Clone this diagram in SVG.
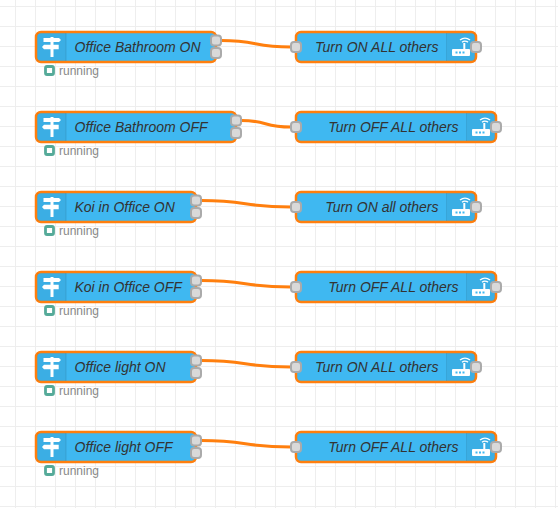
<svg xmlns="http://www.w3.org/2000/svg" width="558" height="508" viewBox="0 0 558 508">
<style>
.g{stroke:#eee;stroke-width:1;fill:none}
.b{fill:#3fb8f1;stroke:#ff7f0e;stroke-width:2.500}
.s{fill:#000;fill-opacity:.05}
.d{stroke:#000;stroke-opacity:.1;stroke-width:1}
.p{fill:#d9d9d9;stroke:#aaa;stroke-width:2}
.l{font:italic 14px "Liberation Sans",Arial,sans-serif;fill:#333}
.r{font:12px "Liberation Sans",Arial,sans-serif;fill:#888}
.w{stroke:#ff7f0e;stroke-width:3;fill:none}
.st{fill:#fff;stroke:#5a9;stroke-width:2.800}
.i{fill:#fff}
</style>
<defs>
<g id="sign"><path class="i" d="M-1.500-10h3v1H7l2 2-2 2H1.500v2.700H6.700v4.600H1.500V10h-3V2.300H-8l-2-2.300 2-2.300h6.500V-5h-7V-9h7z"/></g>
<g id="wifi"><path class="i" d="M-8 2H2.300V-4h2v6H8q1 0 1 1V8q0 1-1 1H-8q-1 0-1-1V3q0-1 1-1z"/><path d="M-5.500 4.500h2v2h-2zM-2 4.500h2v2h-2zM1.500 4.500h2v2h-2z" fill="#3fb8f1"/><path d="M-1-7q5-3.800 10 0M1-4.800q2.800-2.200 6 0" stroke="#fff" stroke-width="1.400" fill="none"/></g>
</defs>
<g id="grid"><path class="g" d="M15.500 0V508M35.500 0V508M55.500 0V508M75.500 0V508M95.500 0V508M115.500 0V508M135.500 0V508M155.500 0V508M175.500 0V508M195.500 0V508M215.500 0V508M235.500 0V508M255.500 0V508M275.500 0V508M295.500 0V508M315.500 0V508M335.500 0V508M355.500 0V508M375.500 0V508M395.500 0V508M415.500 0V508M435.500 0V508M455.500 0V508M475.500 0V508M495.500 0V508M515.500 0V508M535.500 0V508M555.500 0V508M0 6.500H558M0 26.500H558M0 46.500H558M0 66.500H558M0 86.500H558M0 106.500H558M0 126.500H558M0 146.500H558M0 166.500H558M0 186.500H558M0 206.500H558M0 226.500H558M0 246.500H558M0 266.500H558M0 286.500H558M0 306.500H558M0 326.500H558M0 346.500H558M0 366.500H558M0 386.500H558M0 406.500H558M0 426.500H558M0 446.500H558M0 466.500H558M0 486.500H558M0 506.500H558"/></g>
<g id="connectors">
<path class="w" d="M221 40.500C258 40.500 253 47 291 47"/>
<path class="w" d="M241 120.500C268 120.500 263 127 291 127"/>
<path class="w" d="M201 200.500C248 200.500 243 207 291 207"/>
<path class="w" d="M201 280.500C248 280.500 243 287 291 287"/>
<path class="w" d="M201 360.500C248 360.500 243 367 291 367"/>
<path class="w" d="M201 440.500C248 440.500 243 447 291 447"/>
</g>
<g id="in1"><rect class="b" x="36" y="32" width="180" height="30" rx="5"/><path class="s" d="M37 33h29v28h-29z"/><path class="d" d="M66 33v28"/><use href="#sign" x="52" y="47"/><text class="l" x="74.500" y="52">Office Bathroom ON</text><rect class="p" x="211" y="35.500" width="10" height="10" rx="3"/><rect class="p" x="211" y="48" width="10" height="10" rx="3"/><rect class="st" x="45.500" y="66.500" width="8" height="8" rx="1.500"/><text class="r" x="59" y="75">running</text></g>
<g id="in2"><rect class="b" x="36" y="112" width="200" height="30" rx="5"/><path class="s" d="M37 113h29v28h-29z"/><path class="d" d="M66 113v28"/><use href="#sign" x="52" y="127"/><text class="l" x="74.500" y="132">Office Bathroom OFF</text><rect class="p" x="231" y="115.500" width="10" height="10" rx="3"/><rect class="p" x="231" y="128" width="10" height="10" rx="3"/><rect class="st" x="45.500" y="146.500" width="8" height="8" rx="1.500"/><text class="r" x="59" y="155">running</text></g>
<g id="in3"><rect class="b" x="36" y="192" width="160" height="30" rx="5"/><path class="s" d="M37 193h29v28h-29z"/><path class="d" d="M66 193v28"/><use href="#sign" x="52" y="207"/><text class="l" x="74.500" y="212">Koi in Office ON</text><rect class="p" x="191" y="195.500" width="10" height="10" rx="3"/><rect class="p" x="191" y="208" width="10" height="10" rx="3"/><rect class="st" x="45.500" y="226.500" width="8" height="8" rx="1.500"/><text class="r" x="59" y="235">running</text></g>
<g id="in4"><rect class="b" x="36" y="272" width="160" height="30" rx="5"/><path class="s" d="M37 273h29v28h-29z"/><path class="d" d="M66 273v28"/><use href="#sign" x="52" y="287"/><text class="l" x="74.500" y="292">Koi in Office OFF</text><rect class="p" x="191" y="275.500" width="10" height="10" rx="3"/><rect class="p" x="191" y="288" width="10" height="10" rx="3"/><rect class="st" x="45.500" y="306.500" width="8" height="8" rx="1.500"/><text class="r" x="59" y="315">running</text></g>
<g id="in5"><rect class="b" x="36" y="352" width="160" height="30" rx="5"/><path class="s" d="M37 353h29v28h-29z"/><path class="d" d="M66 353v28"/><use href="#sign" x="52" y="367"/><text class="l" x="74.500" y="372">Office light ON</text><rect class="p" x="191" y="355.500" width="10" height="10" rx="3"/><rect class="p" x="191" y="368" width="10" height="10" rx="3"/><rect class="st" x="45.500" y="386.500" width="8" height="8" rx="1.500"/><text class="r" x="59" y="395">running</text></g>
<g id="in6"><rect class="b" x="36" y="432" width="160" height="30" rx="5"/><path class="s" d="M37 433h29v28h-29z"/><path class="d" d="M66 433v28"/><use href="#sign" x="52" y="447"/><text class="l" x="74.500" y="452">Office light OFF</text><rect class="p" x="191" y="435.500" width="10" height="10" rx="3"/><rect class="p" x="191" y="448" width="10" height="10" rx="3"/><rect class="st" x="45.500" y="466.500" width="8" height="8" rx="1.500"/><text class="r" x="59" y="475">running</text></g>
<g id="out1"><rect class="b" x="296" y="32" width="180" height="30" rx="5"/><path class="s" d="M447 33h28v28h-28z"/><path class="d" d="M446.500 33v28"/><use href="#wifi" x="461" y="47"/><text class="l" x="438.500" y="52" text-anchor="end">Turn ON ALL others</text><rect class="p" x="291" y="42" width="10" height="10" rx="3"/><rect class="p" x="471" y="42" width="10" height="10" rx="3"/></g>
<g id="out2"><rect class="b" x="296" y="112" width="200" height="30" rx="5"/><path class="s" d="M467 113h28v28h-28z"/><path class="d" d="M466.500 113v28"/><use href="#wifi" x="481" y="127"/><text class="l" x="458.500" y="132" text-anchor="end">Turn OFF ALL others</text><rect class="p" x="291" y="122" width="10" height="10" rx="3"/><rect class="p" x="491" y="122" width="10" height="10" rx="3"/></g>
<g id="out3"><rect class="b" x="296" y="192" width="180" height="30" rx="5"/><path class="s" d="M447 193h28v28h-28z"/><path class="d" d="M446.500 193v28"/><use href="#wifi" x="461" y="207"/><text class="l" x="438.500" y="212" text-anchor="end">Turn ON all others</text><rect class="p" x="291" y="202" width="10" height="10" rx="3"/><rect class="p" x="471" y="202" width="10" height="10" rx="3"/></g>
<g id="out4"><rect class="b" x="296" y="272" width="200" height="30" rx="5"/><path class="s" d="M467 273h28v28h-28z"/><path class="d" d="M466.500 273v28"/><use href="#wifi" x="481" y="287"/><text class="l" x="458.500" y="292" text-anchor="end">Turn OFF ALL others</text><rect class="p" x="291" y="282" width="10" height="10" rx="3"/><rect class="p" x="491" y="282" width="10" height="10" rx="3"/></g>
<g id="out5"><rect class="b" x="296" y="352" width="180" height="30" rx="5"/><path class="s" d="M447 353h28v28h-28z"/><path class="d" d="M446.500 353v28"/><use href="#wifi" x="461" y="367"/><text class="l" x="438.500" y="372" text-anchor="end">Turn ON ALL others</text><rect class="p" x="291" y="362" width="10" height="10" rx="3"/><rect class="p" x="471" y="362" width="10" height="10" rx="3"/></g>
<g id="out6"><rect class="b" x="296" y="432" width="200" height="30" rx="5"/><path class="s" d="M467 433h28v28h-28z"/><path class="d" d="M466.500 433v28"/><use href="#wifi" x="481" y="447"/><text class="l" x="458.500" y="452" text-anchor="end">Turn OFF ALL others</text><rect class="p" x="291" y="442" width="10" height="10" rx="3"/><rect class="p" x="491" y="442" width="10" height="10" rx="3"/></g>
</svg>
